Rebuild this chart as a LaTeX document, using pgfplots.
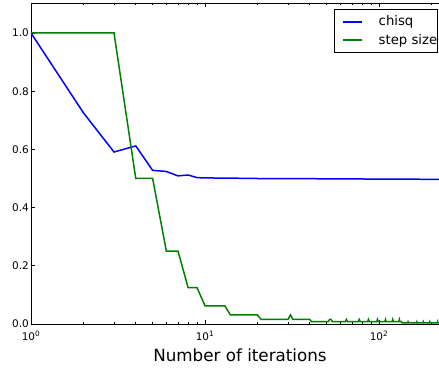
\documentclass[border=0pt]{standalone}
\usepackage{fontspec}
\setmainfont{DejaVu Sans}
\usepackage{pgfplots}
\pgfplotsset{compat=1.18}
\definecolor{mblue}{RGB}{0,0,255}
\definecolor{mgreen}{RGB}{0,128,0}
\begin{document}
\begin{tikzpicture}
\begin{axis}[
  at={(0,0)}, anchor=south west,
  scale only axis, width=418bp, height=321bp,
  xmode=log, xmin=1, xmax=252.6, ymin=0, ymax=1.1031,
  xtick={1,10,100},
  xticklabels={10\textsuperscript{0},10\textsuperscript{1},10\textsuperscript{2}},
  minor xtick={2,3,4,5,6,7,8,9,20,30,40,50,60,70,80,90,200},
  ytick={0,0.2,0.4,0.6,0.8,1.0},
  /pgf/number format/assume math mode=true,
  y tick label style={/pgf/number format/.cd, fixed, fixed zerofill, precision=1, /tikz/.cd},
  tick label style={font=\fontsize{10.5}{12}\selectfont},
  x tick label style={anchor=base, inner sep=0pt, yshift=-16bp},
  y tick label style={anchor=east, inner sep=0pt, xshift=-2bp},
  axis line style={line width=0.8bp, black},
  tick style={line width=0.8bp, black},
  major tick length=4bp, minor tick length=2bp,
  tick align=inside,
  xlabel={Number of iterations},
  xlabel style={at={(axis description cs:0.5,0)}, anchor=base, yshift=-37.7bp, inner sep=0pt, font=\fontsize{16.8}{20}\selectfont},
  legend style={at={(axis description cs:0.7249,1)}, anchor=north west, yshift=-6bp,
    draw=black, line width=0.8bp, fill=white,
    inner xsep=0pt, inner ysep=3bp, row sep=0pt, column sep=0pt,
    font=\fontsize{13.3}{16}\selectfont,
    nodes={inner sep=0pt, minimum height=18.6bp}},
  legend cell align=left,
  legend image code/.code={\draw[#1, line width=1.8bp] (8.7bp,0bp) -- (27.7bp,0bp); \path[draw=none] (0bp,0bp) (44.3bp,0bp);},
]
\addplot[color=mblue, line width=1.5bp] coordinates {
(1,1.0) (2,0.726) (3,0.591) (4,0.612) (5,0.528) (6,0.524) (7,0.509) (8,0.512)
(9,0.503) (10,0.502) (15,0.501) (20,0.500) (50,0.499) (100,0.498) (255,0.497)
};
\addplot[color=mgreen, line width=1.5bp] coordinates {
(1,1) (3,1) (4,0.5) (5,0.5) (6,0.25) (7,0.25) (8,0.125) (9,0.125)
(10,0.0625) (13,0.0625) (14,0.03125) (20,0.03125) (21,0.015625) (30,0.015625)
(31,0.03125) (32,0.015625) (40,0.015625) (41,0.0078125) (51,0.0078125)
(52,0.015625) (53,0.015625) (54,0.0078125) (64,0.0078125) (65,0.015625)
(66,0.0078125) (76,0.0078125) (77,0.015625) (78,0.0078125) (86,0.0078125)
(87,0.015625) (88,0.0078125) (97,0.0078125) (98,0.015625) (99,0.0078125)
(108,0.0078125) (109,0.015625) (110,0.0078125) (119,0.0078125) (120,0.015625)
(121,0.0078125) (130,0.0078125) (131,0.015625) (132,0.0078125) (135,0.0078125)
(136,0.00390625) (146,0.00390625) (147,0.0078125) (148,0.00390625)
(164,0.00390625) (165,0.0078125) (166,0.00390625) (179,0.00390625)
(180,0.0078125) (181,0.00390625) (195,0.00390625) (196,0.0078125)
(197,0.00390625) (216,0.00390625) (217,0.0078125) (218,0.00390625)
(255,0.00390625)
};
\legend{chisq, step size\hspace{8bp}}
\end{axis}
\pgfresetboundingbox
\useasboundingbox (-31bp,-45bp) rectangle (408bp,324bp);
\end{tikzpicture}
\end{document}
